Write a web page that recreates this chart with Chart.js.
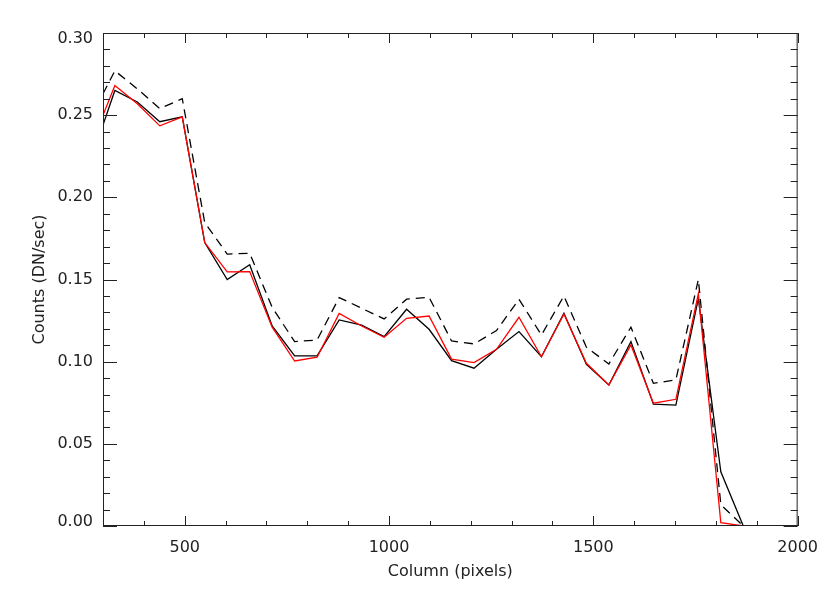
<!DOCTYPE html>
<html lang="en">
<head>
<meta charset="UTF-8">
<title>Counts vs Column</title>
<script src="https://cdn.jsdelivr.net/npm/chart.js"></script>
<style>
  html, body { margin: 0; padding: 0; background: #fff; }
  #wrap { width: 830px; height: 593px; }
</style>
</head>
<body>
<div id="wrap"><canvas id="countsChart"></canvas></div>
<script>
// column of each binned point (first one is the left edge of the plot)
const columns = [300, 329, 384, 439, 494, 549, 604, 659, 714, 769, 824, 878, 933, 988, 1043, 1098,
                 1153, 1208, 1263, 1318, 1373, 1428, 1483, 1538, 1592, 1647, 1702, 1757, 1812, 1867,
                 1922, 1977, 2032];

const countsRed = [0.250, 0.268, 0.257, 0.2435, 0.249, 0.1725, 0.1546, 0.1548, 0.121, 0.1004, 0.1027,
                   0.1294, 0.1217, 0.1148, 0.1264, 0.1278, 0.1016, 0.0994, 0.1075, 0.127, 0.103, 0.129,
                   0.099, 0.0858, 0.1102, 0.0747, 0.0771, 0.1414, 0.002, 0, 0, 0, 0];

const countsBlack = [0.244, 0.265, 0.258, 0.246, 0.249, 0.1725, 0.150, 0.159, 0.1217, 0.1035, 0.1035,
                     0.1254, 0.1223, 0.1152, 0.1319, 0.1197, 0.1006, 0.096, 0.1075, 0.1183, 0.103, 0.1294,
                     0.0984, 0.0858, 0.1122, 0.0741, 0.0736, 0.1384, 0.033, 0, 0, 0, 0];

const countsDashed = [0.263, 0.277, 0.266, 0.254, 0.260, 0.1846, 0.1655, 0.166, 0.133, 0.1122, 0.1132,
                      0.139, 0.1325, 0.126, 0.138, 0.1392, 0.1126, 0.1108, 0.1189, 0.138, 0.1162, 0.140,
                      0.1088, 0.0986, 0.121, 0.0868, 0.0889, 0.150, 0.013, 0, 0, 0, 0];

const xLabels = [500, 1000, 1500, 2000];
const yLabels = [0, 0.05, 0.10, 0.15, 0.20, 0.25, 0.30];

const toPoints = vals => vals.map((v, i) => ({ x: columns[i], y: v }));
const labelFont = { family: 'DejaVu Sans', size: 16 };

// IDL-style box with inward ticks on all four sides, y labels kept inside the axis range
const frameTicks = {
  id: 'frameTicks',
  afterDraw(chart) {
    const { ctx, chartArea: a, scales: { x, y } } = chart;
    ctx.save();
    ctx.strokeStyle = '#222';
    ctx.lineWidth = 1;
    ctx.strokeRect(a.left + 0.5, a.top + 0.5, a.width - 1, a.height - 1);
    ctx.beginPath();
    for (let v = 300; v <= 2000; v += 100) {
      const px = Math.round(x.getPixelForValue(v)) + 0.5;
      const len = v % 500 === 0 ? 10 : 5;
      ctx.moveTo(px, a.bottom); ctx.lineTo(px, a.bottom - len);
      ctx.moveTo(px, a.top); ctx.lineTo(px, a.top + len);
    }
    for (let i = 0; i <= 30; i++) {
      const py = Math.round(y.getPixelForValue(i / 100)) + 0.5;
      const len = i % 5 === 0 ? 14 : 7;
      ctx.moveTo(a.left, py); ctx.lineTo(a.left + len, py);
      ctx.moveTo(a.right, py); ctx.lineTo(a.right - len, py);
    }
    ctx.stroke();

    ctx.fillStyle = '#222';
    ctx.font = `${labelFont.size}px "${labelFont.family}"`;
    ctx.textAlign = 'right';
    ctx.textBaseline = 'middle';
    yLabels.forEach(v => {
      const py = Math.min(Math.max(y.getPixelForValue(v), a.top + 6), a.bottom - 4);
      ctx.fillText(v.toFixed(2), a.left - 10, py);
    });
    ctx.restore();
  }
};

new Chart(document.getElementById('countsChart'), {
  type: 'line',
  data: {
    datasets: [
      { data: toPoints(countsRed), borderColor: '#ff0000', borderWidth: 1.3 },
      { data: toPoints(countsBlack), borderColor: '#000000', borderWidth: 1.3 },
      { data: toPoints(countsDashed), borderColor: '#000000', borderWidth: 1.3, borderDash: [9, 6] }
    ]
  },
  options: {
    responsive: true,
    maintainAspectRatio: false,
    animation: false,
    elements: { point: { radius: 0 }, line: { tension: 0 } },
    layout: { autoPadding: false, padding: { top: 33, right: 31, left: 0, bottom: 0 } },
    plugins: { legend: { display: false }, tooltip: { enabled: false } },
    scales: {
      x: {
        type: 'linear',
        min: 300,
        max: 2000,
        grid: { display: false, drawTicks: false },
        border: { display: false },
        afterBuildTicks: s => { s.ticks = xLabels.map(v => ({ value: v })); },
        afterFit: s => { s.height = 67; },
        ticks: { color: '#222', font: labelFont, padding: 12, maxRotation: 0, callback: v => String(v) },
        title: { display: true, text: 'Column (pixels)', color: '#222', font: labelFont, padding: { bottom: 12 } }
      },
      y: {
        min: 0,
        max: 0.30,
        grid: { display: false, drawTicks: false },
        border: { display: false },
        afterBuildTicks: s => { s.ticks = yLabels.map(v => ({ value: v })); },
        afterFit: s => { s.width = 103; },
        ticks: { display: false },
        title: { display: true, text: 'Counts (DN/sec)', color: '#222', font: labelFont, padding: { top: 30 } }
      }
    }
  },
  plugins: [frameTicks]
});
</script>
</body>
</html>
